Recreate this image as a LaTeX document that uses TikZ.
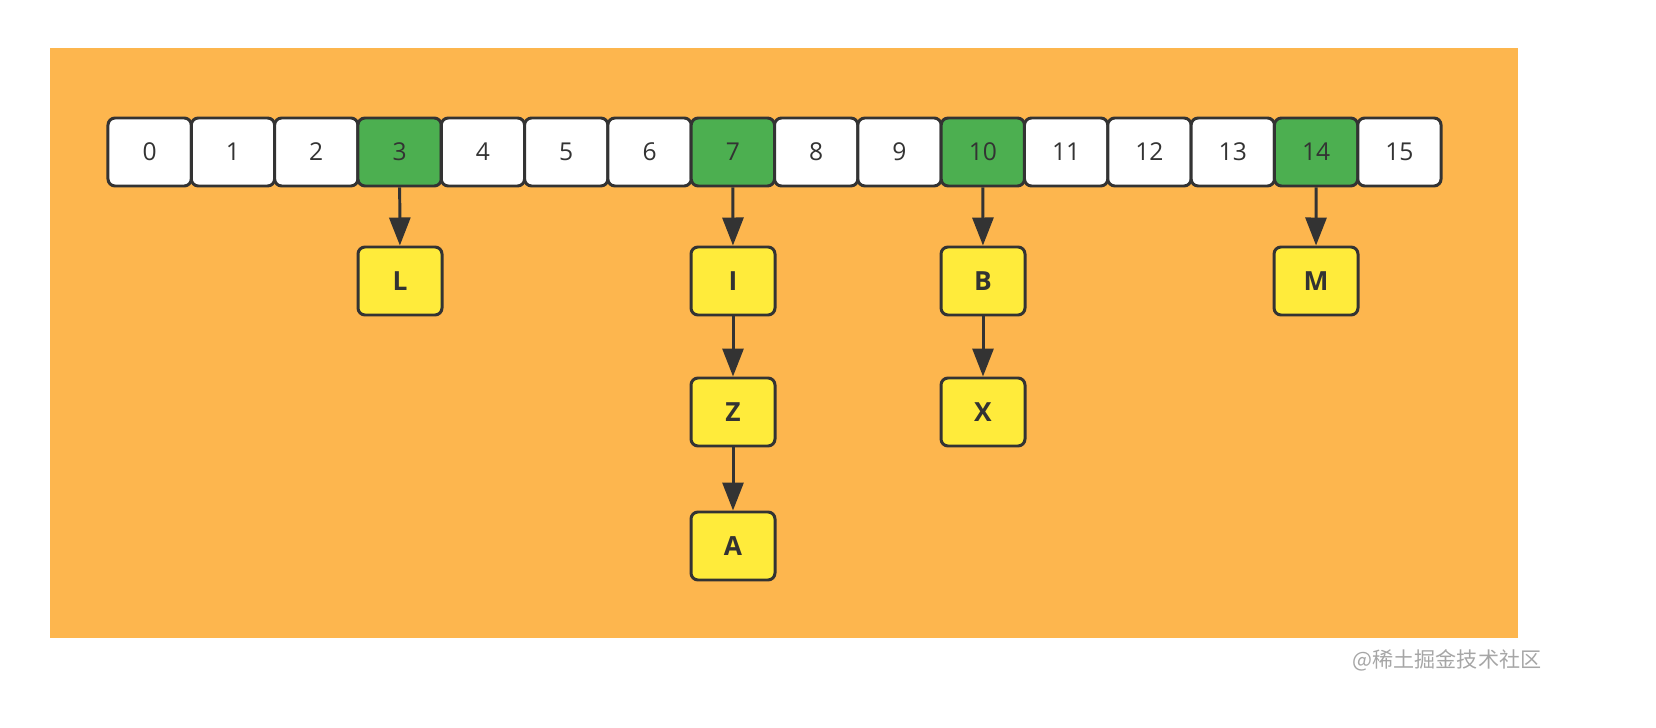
\documentclass[tikz,border=0pt]{standalone}
\usepackage{fontspec}
\setmainfont{Open Sans}
\newfontfamily\cjk{Noto Sans CJK SC}
\usetikzlibrary{arrows.meta}
\definecolor{bgorange}{HTML}{FDB64E}
\definecolor{slotgreen}{HTML}{4CAF50}
\definecolor{entryyellow}{HTML}{FFEB3B}
\definecolor{edge}{HTML}{333333}
\tikzset{
  slot/.style={draw=edge, line width=1.7pt, rounded corners=4pt, fill=white,
    minimum width=1.666cm, minimum height=1.36cm, inner sep=0pt,
    font=\fontsize{14}{16}\selectfont, text=edge},
  used/.style={slot, fill=slotgreen},
  entry/.style={draw=edge, line width=1.7pt, rounded corners=4pt, fill=entryyellow,
    minimum width=1.68cm, minimum height=1.36cm, inner sep=0pt,
    font=\fontsize{15}{17}\selectfont\bfseries, text=edge},
  link/.style={draw=edge, line width=1.7pt, -{Triangle[length=0.56cm,width=0.42cm]}}
}
\begin{document}
\begin{tikzpicture}
    \fill[bgorange] (1,-0.96) rectangle (30.36,-12.76);

    % bucket array
    \foreach \i/\st in {0/slot,1/slot,2/slot,3/used,4/slot,5/slot,6/slot,7/used,
        8/slot,9/slot,10/used,11/slot,12/slot,13/slot,14/used,15/slot}
        \node[\st] (s\i) at ({(149.6+83.3*\i)*0.02},-3.04) {\i};

    % chained entries
    \node[entry] (L) at (8.0,-5.62) {L};
    \node[entry] (I) at (14.66,-5.62) {I};
    \node[entry] (Z) at (14.66,-8.24) {Z};
    \node[entry] (A) at (14.66,-10.92) {A};
    \node[entry] (B) at (19.66,-5.62) {B};
    \node[entry] (X) at (19.66,-8.24) {X};
    \node[entry] (M) at (26.32,-5.62) {M};

    \draw[link] (s3) -- (L);
    \draw[link] (s7) -- (I);
    \draw[link] (I) -- (Z);
    \draw[link] (Z) -- (A);
    \draw[link] (s10) -- (B);
    \draw[link] (B) -- (X);
    \draw[link] (s14) -- (M);

    \node[anchor=east, text=gray!70, font=\cjk\fontsize{12}{14}\selectfont] (mark) at (30.95,-13.2) {@稀土掘金技术社区};
    \pgfresetboundingbox
    \useasboundingbox (0,0) rectangle (33.12,-14.56);
\end{tikzpicture}
\end{document}
